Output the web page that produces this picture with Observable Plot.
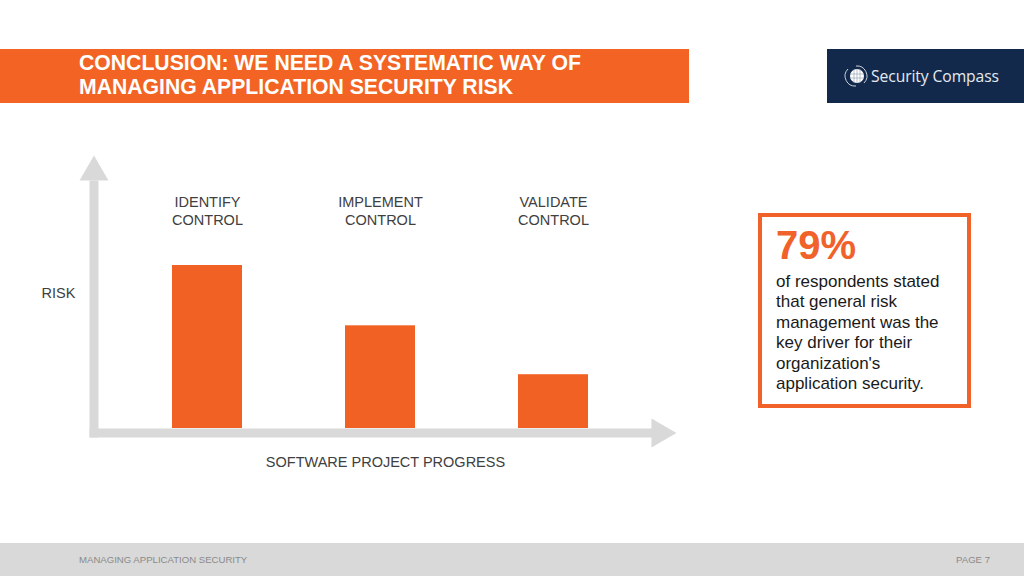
<!DOCTYPE html>
<html>
<head>
<meta charset="utf-8">
<script src="https://cdn.jsdelivr.net/npm/d3@7"></script>
<script src="https://cdn.jsdelivr.net/npm/@observablehq/plot@0.6"></script>
<style>
  html, body { margin: 0; padding: 0; background: #fff; }
  #slide { position: relative; width: 1024px; height: 576px; overflow: hidden; background: #fff; font-family: "Liberation Sans", Arial, Helvetica, sans-serif; }
  #header { position: absolute; left: 0; top: 49px; width: 689px; height: 54px; background: #F26324; }
  #title { position: absolute; left: 79px; top: 51px; font-size: 21.2px; line-height: 24px; font-weight: bold; color: #fff; white-space: nowrap; }
  #logo { position: absolute; left: 827px; top: 49px; width: 197px; height: 54px; background: #13294B; }
  #logo .name { position: absolute; left: 44px; top: 17px; font-family: "Open Sans", sans-serif; font-size: 15.7px; line-height: 20px; color: #e6eaf0; white-space: nowrap; letter-spacing: -0.1px; }
  #logo svg { position: absolute; left: 16px; top: 14px; }
  #chart { position: absolute; left: 0; top: 0; }
  #callout { position: absolute; left: 758px; top: 213px; width: 205px; height: 187px; border: 4px solid #F0622A; background: #fff; }
  #big { position: absolute; left: 776px; top: 225px; font-size: 40px; line-height: 40px; font-weight: bold; color: #F0622A; }
  #body { position: absolute; left: 776px; top: 272px; font-size: 17px; line-height: 20.4px; color: #1a1a1a; width: 190px; }
  #footer { position: absolute; left: 0; top: 543px; width: 1024px; height: 33px; background: #D9D9D9; }
  #footL { position: absolute; left: 79px; top: 555px; font-size: 9.6px; line-height: 10px; color: #8a8a8a; white-space: nowrap; }
  #footR { position: absolute; right: 34px; top: 555px; font-size: 9.6px; line-height: 10px; color: #8a8a8a; white-space: nowrap; }
</style>
</head>
<body>
<div id="slide">
  <div id="header"></div>
  <div id="title">CONCLUSION: WE NEED A SYSTEMATIC WAY OF<br>MANAGING APPLICATION SECURITY RISK</div>
  <div id="logo">
    <svg width="26" height="26" viewBox="0 0 26 26">
      <path d="M5 6 A10 10 0 0 0 13 23" fill="none" stroke="#c9d0dc" stroke-width="1"/>
      <path d="M21 20 A10 10 0 0 0 13 3" fill="none" stroke="#c9d0dc" stroke-width="1"/>
      <circle cx="14" cy="13" r="7" fill="#ffffff"/>
      <path d="M7 11 H21 M7 15 H21 M11 6.5 V19.5 M14 6 V20 M17 6.5 V19.5" stroke="#9aa6b8" stroke-width="0.7"/>
    </svg>
    <div class="name">Security Compass</div>
  </div>
  <div id="chart"></div>
  <div id="callout"></div>
  <div id="big">79%</div>
  <div id="body">of respondents stated that general risk management was the key driver for their organization's application security.</div>
  <div id="footer"></div>
  <div id="footL">MANAGING APPLICATION SECURITY</div>
  <div id="footR">PAGE 7</div>
</div>
<script>
// ---- data ----
const stages = ["IDENTIFY\nCONTROL", "IMPLEMENT\nCONTROL", "VALIDATE\nCONTROL"];
const risk = [100, 63, 33];
const yLabel = ["RISK"];
const xLabel = ["SOFTWARE PROJECT PROGRESS"];

const table = stages.map((s, i) => ({stage: s, risk: risk[i]}));

const axisGray = "#D9D9D9";
const orange = "#F16124";
const labelGray = "#404040";

// frame: x 89..656, y 180..437
const W = 700, H = 480, mL = 89, mR = 44, mT = 180, mB = 43;
const fw = W - mL - mR, fh = H - mT - mB, thick = 9;

const chart = Plot.plot({
  width: W,
  height: H,
  marginLeft: mL,
  marginRight: mR,
  marginTop: mT,
  marginBottom: mB,
  style: {background: "transparent", overflow: "visible", fontFamily: "'Liberation Sans', Arial, sans-serif"},
  x: {domain: stages, range: [69, 692], padding: 0.595, axis: null},
  y: {domain: [0, 100], range: [428, 265], axis: null},
  marks: [
    Plot.frame({fill: axisGray, stroke: null, insetRight: fw - thick}),
    Plot.frame({fill: axisGray, stroke: null, insetTop: fh - thick}),
    Plot.dot([0], {frameAnchor: "top-left", dx: 4.5, dy: -8.3, symbol: "triangle", r: 10.75, fill: axisGray, stroke: null}),
    Plot.dot([0], {frameAnchor: "bottom-right", dx: 3.3, dy: -4.5, symbol: "triangle", r: 10.75, rotate: 90, fill: axisGray, stroke: null}),
    Plot.barY(table, {x: "stage", y: "risk", fill: orange}),
    Plot.text(table, {x: "stage", text: "stage", frameAnchor: "top", dy: 30, fontSize: 14.5, lineHeight: 1.25, lineAnchor: "middle", fill: labelGray}),
    Plot.text(yLabel, {text: d => d, frameAnchor: "left", textAnchor: "middle", dx: -31, dy: -15.5, fontSize: 14.5, fill: labelGray}),
    Plot.text(xLabel, {text: d => d, frameAnchor: "bottom", textAnchor: "middle", dx: 12.5, dy: 29, fontSize: 14.5, fill: labelGray})
  ]
});
document.getElementById("chart").appendChild(chart);
</script>
</body>
</html>
